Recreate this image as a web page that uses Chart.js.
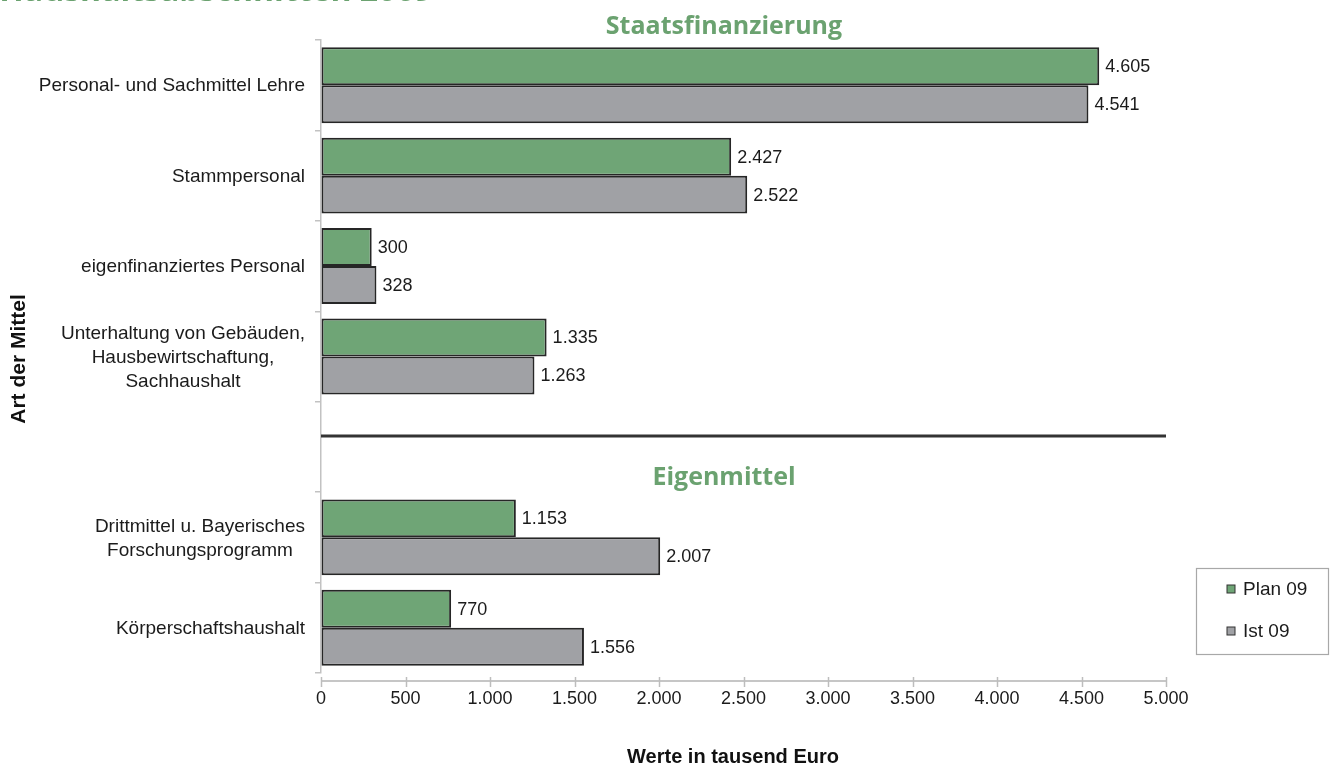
<!DOCTYPE html>
<html>
<head>
<meta charset="utf-8">
<script src="https://cdn.jsdelivr.net/npm/chart.js@4.4.1/dist/chart.umd.min.js"></script>
<style>
  html, body { margin: 0; padding: 0; background: #ffffff; }
  #wrap { width: 1337px; height: 766px; position: relative; }
</style>
</head>
<body>
<div id="wrap"><canvas id="c" width="1337" height="766"></canvas></div>
<script>
// Budget by type of funds, plan vs. actual 2009 (in thousand euro)
const categories = [
  ['Personal- und Sachmittel Lehre'],
  ['Stammpersonal'],
  ['eigenfinanziertes Personal'],
  ['Unterhaltung von Gebäuden,', 'Hausbewirtschaftung,', 'Sachhaushalt'],
  [''],
  ['Drittmittel u. Bayerisches', 'Forschungsprogramm'],
  ['Körperschaftshaushalt']
];
const plan09 = [4605, 2427, 300, 1335, null, 1153, 770];
const ist09  = [4541, 2522, 328, 1263, null, 2007, 1556];
const seriesNames = ['Plan 09', 'Ist 09'];
const sectionTitles = ['Staatsfinanzierung', 'Eigenmittel'];
const pageTitle = 'Haushaltsabschnitten 2009';
const xAxisTitle = 'Werte in tausend Euro';
const yAxisTitle = 'Art der Mittel';
const xMin = 0, xMax = 5000, xStep = 500;

const GREEN = '#6fa576';
const GREY = '#a0a1a5';
const EDGE = '#262626';
const HEAD = '#6ba270';
const FONT = '"Liberation Sans", Arial, sans-serif';

function fmt(v) {
  return String(v).replace(/\B(?=(\d{3})+(?!\d))/g, '.');
}

const xTickValues = [];
for (let v = xMin; v <= xMax; v += xStep) xTickValues.push(v);

// Draws the German-format value next to each bar end
const valueLabels = {
  id: 'valueLabels',
  afterDatasetsDraw(chart) {
    const ctx = chart.ctx;
    ctx.save();
    ctx.font = '18px ' + FONT;
    ctx.fillStyle = '#1b1b1b';
    ctx.textAlign = 'left';
    ctx.textBaseline = 'middle';
    chart.data.datasets.forEach((ds, di) => {
      const meta = chart.getDatasetMeta(di);
      meta.data.forEach((el, i) => {
        const v = ds.data[i];
        if (v === null || v === undefined) return;
        ctx.fillText(fmt(v), el.x + 6, el.y + 1);
      });
    });
    ctx.restore();
  }
};

// Category labels (lines centred within a right-aligned block), section
// headers, divider line, value axis line, axis titles and the legend box
const decorations = {
  id: 'decorations',
  afterDraw(chart) {
    const ctx = chart.ctx;
    const y = chart.scales.y;
    const x = chart.scales.x;
    const area = chart.chartArea;
    const band = (y.getPixelForValue(1) - y.getPixelForValue(0));
    ctx.save();

    // value axis drawn slightly below the plot area
    const axisY = area.bottom + 8;
    ctx.strokeStyle = '#c6c6c6';
    ctx.lineWidth = 2;
    ctx.beginPath();
    ctx.moveTo(x.getPixelForValue(xMin), axisY);
    ctx.lineTo(x.getPixelForValue(xMax), axisY);
    ctx.stroke();
    ctx.strokeStyle = '#bdbdbd';
    ctx.lineWidth = 1.5;
    xTickValues.forEach(v => {
      const px = Math.round(x.getPixelForValue(v)) + 0.5;
      ctx.beginPath();
      ctx.moveTo(px, axisY - 4);
      ctx.lineTo(px, axisY + 6);
      ctx.stroke();
    });

    // category labels
    ctx.font = '19px ' + FONT;
    ctx.fillStyle = '#1b1b1b';
    ctx.textAlign = 'center';
    ctx.textBaseline = 'middle';
    const rightEdge = area.left - 16;
    const lh = 24;
    categories.forEach((lines, i) => {
      const cy = y.getPixelForValue(i);
      const w = Math.max(...lines.map(s => ctx.measureText(s).width));
      const cx = rightEdge - w / 2;
      lines.forEach((s, k) => {
        ctx.fillText(s, cx, cy + (k - (lines.length - 1) / 2) * lh + 1);
      });
    });

    // divider between state funding and own funds
    const emptyIdx = 4;
    const divY = y.getPixelForValue(emptyIdx) - band * 0.12;
    ctx.strokeStyle = '#333333';
    ctx.lineWidth = 3;
    ctx.beginPath();
    ctx.moveTo(area.left, divY);
    ctx.lineTo(area.right, divY);
    ctx.stroke();

    // section headers
    const drawHead = (txt, cx, cy, targetW) => {
      ctx.font = 'bold 25px "Open Sans", sans-serif';
      const w = ctx.measureText(txt).width;
      const sx = Math.min(1, targetW / w);
      ctx.save();
      ctx.translate(cx, cy);
      ctx.scale(sx, 1);
      ctx.fillStyle = HEAD;
      ctx.textAlign = 'center';
      ctx.textBaseline = 'middle';
      ctx.fillText(txt, 0, 0);
      ctx.restore();
    };
    const midX = 724;
    drawHead(sectionTitles[0], midX, area.top - 13, 237);
    drawHead(sectionTitles[1], midX, y.getPixelForValue(emptyIdx) + band * 0.34, 144);

    // page heading, cut at the top edge
    ctx.save();
    ctx.font = 'bold 32px "Open Sans", sans-serif';
    ctx.fillStyle = HEAD;
    ctx.textAlign = 'right';
    ctx.textBaseline = 'alphabetic';
    ctx.fillText(pageTitle, 433, 1);
    ctx.restore();

    // axis titles
    ctx.font = 'bold 20px ' + FONT;
    ctx.fillStyle = '#111111';
    ctx.textAlign = 'center';
    ctx.textBaseline = 'middle';
    ctx.fillText(xAxisTitle, 733, 757);
    ctx.save();
    ctx.font = 'bold 21px ' + FONT;
    ctx.translate(19, 359);
    ctx.rotate(-Math.PI / 2);
    ctx.fillText(yAxisTitle, 0, 0);
    ctx.restore();

    // legend
    const lx = 1196, ly = 568, lw = 132, lhgt = 86;
    ctx.strokeStyle = '#a8a8a8';
    ctx.lineWidth = 1.2;
    ctx.strokeRect(lx + 0.5, ly + 0.5, lw, lhgt);
    const colors = [GREEN, GREY];
    ctx.font = '19px ' + FONT;
    ctx.textAlign = 'left';
    seriesNames.forEach((name, k) => {
      const cy = ly + 21 + k * 42;
      ctx.fillStyle = colors[k];
      ctx.fillRect(lx + 31, cy - 4, 8, 8);
      ctx.strokeStyle = '#333';
      ctx.lineWidth = 1;
      ctx.strokeRect(lx + 31, cy - 4, 8, 8);
      ctx.fillStyle = '#1b1b1b';
      ctx.fillText(name, lx + 47, cy + 1);
    });

    ctx.restore();
  }
};

new Chart(document.getElementById('c'), {
  type: 'bar',
  data: {
    labels: categories,
    datasets: [
      { label: seriesNames[0], data: plan09, backgroundColor: GREEN },
      { label: seriesNames[1], data: ist09, backgroundColor: GREY }
    ]
  },
  options: {
    indexAxis: 'y',
    responsive: false,
    animation: false,
    devicePixelRatio: 1,
    datasets: {
      bar: {
        borderColor: EDGE,
        borderWidth: 2,
        borderSkipped: false,
        categoryPercentage: 0.84,
        barPercentage: 1.0
      }
    },
    layout: { padding: { top: 40, right: 171, bottom: 0, left: 0 } },
    plugins: {
      legend: { display: false },
      tooltip: { enabled: false }
    },
    scales: {
      x: {
        type: 'linear',
        min: xMin,
        max: xMax,
        afterBuildTicks(scale) { scale.ticks = xTickValues.map(v => ({ value: v })); },
        afterFit(scale) { scale.height = 93; },
        border: { display: false },
        grid: { drawOnChartArea: false, drawTicks: false },
        ticks: {
          font: { family: FONT, size: 18 },
          color: '#1b1b1b',
          padding: 15,
          maxRotation: 0,
          callback: (v) => fmt(v)
        }
      },
      y: {
        afterFit(scale) { scale.width = 321; },
        border: { color: '#c2c2c2', width: 1.5 },
        grid: { drawOnChartArea: false, drawTicks: true, tickLength: 6, color: '#c2c2c2', lineWidth: 1.5 },
        ticks: { display: false }
      }
    }
  },
  plugins: [valueLabels, decorations]
});
</script>
</body>
</html>
